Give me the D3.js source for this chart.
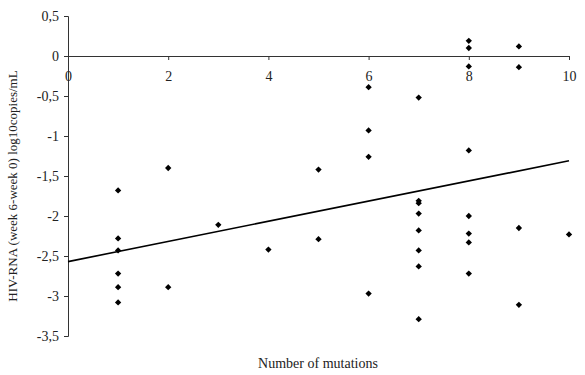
<!DOCTYPE html>
<html>
<head>
<meta charset="utf-8">
<script src="https://cdn.jsdelivr.net/npm/d3@7"></script>
<style>
  body { margin: 0; background: #fff; }
  text { font-family: "Liberation Serif", "Times New Roman", serif; fill: #222; }
</style>
</head>
<body>
<svg id="chart" width="585" height="375"></svg>
<script>
// mutations on x, change in log10 viral load on y
const mutations = [1, 1, 1, 1, 1, 1, 2, 2, 3, 4, 5, 5, 6, 6, 6, 6,
  7, 7, 7, 7, 7, 7, 7, 7, 8, 8, 8, 8, 8, 8, 8, 8, 9, 9, 9, 9, 10];
const deltaRna = [-1.68, -2.28, -2.43, -2.72, -2.89, -3.08, -1.40, -2.89, -2.11, -2.42, -1.42, -2.29,
  -0.39, -0.93, -1.26, -2.97,
  -0.52, -1.81, -1.84, -1.97, -2.18, -2.43, -2.63, -3.29,
  0.19, 0.10, -0.13, -1.18, -2.00, -2.22, -2.33, -2.72,
  0.12, -0.14, -2.15, -3.11, -2.23];
const yTicks = [0.5, 0, -0.5, -1, -1.5, -2, -2.5, -3, -3.5];
const xTicks = [0, 2, 4, 6, 8, 10];
// linear trend line
const trendIntercept = -2.57;
const trendSlope = 0.126;

const svg = d3.select("#chart");

const x = d3.scaleLinear().domain([0, 10]).range([68, 569]);
const y = d3.scaleLinear().domain([-3.5, 0.5]).range([336, 16]);

const fmt = d => String(d).replace(".", ",");

// y axis
const yAxis = svg.append("g")
  .attr("transform", `translate(${x(0)},0)`)
  .call(d3.axisLeft(y).tickValues(yTicks).tickSize(4).tickPadding(5).tickFormat(fmt));
yAxis.selectAll("text").style("font-size", "14px");

// x axis sits on y = 0
const xAxis = svg.append("g")
  .attr("transform", `translate(0,${y(0)})`)
  .call(d3.axisBottom(x).tickValues(xTicks).tickSize(4).tickPadding(11).tickFormat(fmt));
xAxis.selectAll("text").style("font-size", "14px");

svg.selectAll(".domain, .tick line").attr("stroke", "#333");

// trend line
const line = d3.line().x(d => x(d)).y(d => y(trendIntercept + trendSlope * d));
svg.append("path")
  .datum([0, 10])
  .attr("d", line)
  .attr("fill", "none")
  .attr("stroke", "#000")
  .attr("stroke-width", 1.6);

// points as small square diamonds
const marker = d3.symbol().type(d3.symbolSquare).size(20);
svg.selectAll(".pt")
  .data(mutations.map((m, i) => [m, deltaRna[i]]))
  .enter()
  .append("path")
  .attr("class", "pt")
  .attr("transform", d => `translate(${x(d[0])},${y(d[1])}) rotate(45)`)
  .attr("d", marker)
  .attr("fill", "#000");

// titles
svg.append("text")
  .attr("x", 318).attr("y", 368)
  .attr("text-anchor", "middle")
  .style("font-size", "14px")
  .text("Number of mutations");

svg.append("text")
  .attr("transform", "translate(17,186) rotate(-90)")
  .attr("text-anchor", "middle")
  .style("font-size", "13px")
  .text("HIV-RNA  (week 6-week 0) log10copies/mL");
</script>
</body>
</html>
